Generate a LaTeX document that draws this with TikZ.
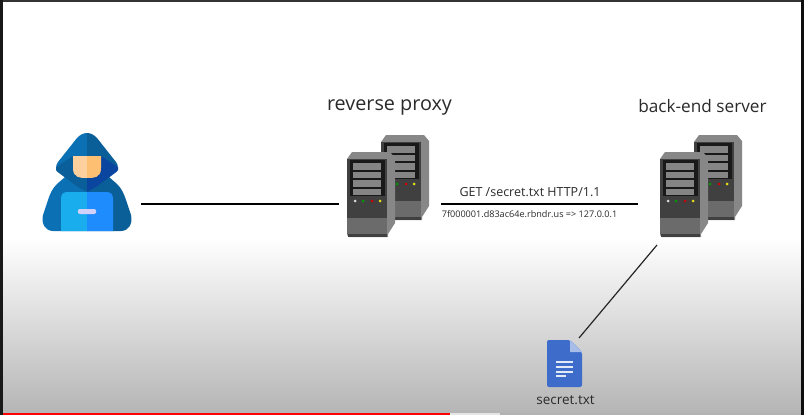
\documentclass[tikz,border=0pt]{standalone}
\usepackage{fontspec}
\setmainfont{Open Sans}
\definecolor{hoodL}{HTML}{0B70B4}
\definecolor{hoodR}{HTML}{0A5F99}
\definecolor{innerL}{HTML}{0A5E9A}
\definecolor{innerR}{HTML}{0A459F}
\definecolor{faceL}{HTML}{FDD09E}
\definecolor{faceR}{HTML}{FDBF72}
\definecolor{padL}{HTML}{1AADEE}
\definecolor{padR}{HTML}{1F8CFD}
\definecolor{docblue}{HTML}{3D6CCB}
\definecolor{txtgrey}{HTML}{2A2A2A}
\tikzset{
	link/.style = {draw=black, line width=1.9pt},
	iconbox/.style = {inner sep=0pt, outer sep=0pt},
	title/.style = {text=txtgrey, inner sep=0pt, font=\fontsize{19.8}{24}\selectfont},
	subtitle/.style = {text=txtgrey, inner sep=0pt, font=\fontsize{17.2}{20}\selectfont},
	small/.style = {text=txtgrey, inner sep=0pt, font=\fontsize{12.5}{15}\selectfont},
	tiny/.style = {text=txtgrey, inner sep=0pt, font=\fontsize{9.1}{11}\selectfont},
	unit/.pic = {
		\fill[fill=black!47] (0,7) -- (5,0) -- (43,0) -- (48,6) -- (48,71) -- (41,82) -- (41,85) -- (2,85) -- (0,83) -- cycle;
		\fill[fill=black!75] (0,7) rectangle (40,66);
		\fill[fill=black!58] (0,66) rectangle (40,82);
		\fill[fill=black!75] (1,82) rectangle (40,85);
		\fill[fill=black!90] (3,8) rectangle (38,44);
		\foreach \y in {11,19.5,28,36.5}
			\fill[fill=black!48] (6,\y) rectangle (34,\y+6.6);
		\foreach \x/\c in {8/black!15, 16/green!60!black, 25/red!80!black, 33/yellow!90!black}
			\fill[fill=\c] (\x,49) circle (1.5);
	},
	server/.pic = {
		\pic at (34,-17) {unit};
		\pic at (0,0) {unit};
	},
	halfman/.pic = {
		\fill[fill=\hood] (0,-49) .. controls (-4,-49) and (-7,-47) .. (-10,-44) -- (-29,-20) .. controls (-32,-16) and (-31,-13) .. (-27,-9) -- (-22,-5) -- (-30,2) .. controls (-35,7) and (-37,12) .. (-39,18) -- (-44,33) .. controls (-46,41) and (-42,49) .. (-34,49) -- (0,49) -- cycle;
		\fill[fill=\inner] (0,-26) -- (-14,-26) -- (-31,-15) .. controls (-32,-13) and (-31,-11) .. (-28,-9) -- (-9,5) -- (0,10) -- cycle;
		\fill[fill=\face] (0,-26) -- (-14,-26) -- (-14,-14) .. controls (-14,-4) and (-7,-4) .. (0,-4) -- cycle;
		\fill[fill=\pad] (0,10) -- (-19,10) .. controls (-24,10) and (-26,12) .. (-26,17) -- (-26,49) -- (0,49) -- cycle;
		\fill[fill=black!10!blue!18] (0,27) -- (-7,27) .. controls (-10,27) and (-10,32) .. (-7,32) -- (0,32) -- cycle;
	},
}
\begin{document}
\begin{tikzpicture}[x=1pt, y=-1pt]
	\useasboundingbox (0,0) rectangle (804,415);
	% backdrop
	\fill[white] (0,0) rectangle (804,415);
	\shade[top color=white, bottom color=black!29] (3,238) rectangle (801,413);
	\fill[black!80] (0,0) rectangle (804,2);
	\fill[black!90] (0,0) rectangle (3,415);
	\fill[black!95] (801,0) rectangle (804,415);
	\fill[black!30] (3,413) rectangle (801,415);
	\fill[black!10] (450,413) rectangle (500,415);
	\fill[red] (3,413) rectangle (450,415);
	% nodes
	\node[iconbox, minimum width=108pt, minimum height=56pt] (user) at (87,204) {};
	\node[iconbox, minimum width=102pt, minimum height=56pt] (proxy) at (390,204) {};
	\node[iconbox, minimum width=114pt, minimum height=82pt] (backend) at (695,204) {};
	\node[iconbox, minimum width=30pt, minimum height=50pt] (secret) at (564,363) {};
	% icons
	\begin{scope}[shift={(87,182)}]
		\def\hood{hoodL}\def\inner{innerL}\def\face{faceL}\def\pad{padL}
		\pic at (0,0) {halfman};
		\def\hood{hoodR}\def\inner{innerR}\def\face{faceR}\def\pad{padR}
		\pic[xscale=-1] at (0,0) {halfman};
	\end{scope}
	\pic at (347,152) {server};
	\pic at (660,152) {server};
	\fill[docblue, rounded corners=2pt] (547,340) -- (570,340) -- (582,352) -- (582,387) -- (547,387) -- cycle;
	\fill[docblue!45!white] (570,340) -- (582,352) -- (570,352) -- cycle;
	\foreach \y/\e in {361/573, 366/573, 371/573, 375/566}
		\fill[white!85!docblue] (556,\y) rectangle (\e,\y+1.5);
	% labels
	\node[title] (proxylabel) at (389.5,107) {reverse proxy};
	\node[subtitle] (backendlabel) at (702.5,106) {back-end server};
	\node[small] (getlabel) at (530,192) {GET /secret.txt HTTP/1.1};
	\node[tiny] (iplabel) at (529.5,214) {7f000001.d83ac64e.rbndr.us => 127.0.0.1};
	\node[small, font=\fontsize{13.5}{16}\selectfont] (secretlabel) at (565.5,400) {secret.txt};
	% connectors
	\draw[link] (user.east) -- (proxy.west);
	\draw[link] (proxy.east) -- (backend.west);
	\draw[black!85, line width=1.2pt] (secret.north east) -- ([xshift=19pt]backend.south west);
\end{tikzpicture}
\end{document}
